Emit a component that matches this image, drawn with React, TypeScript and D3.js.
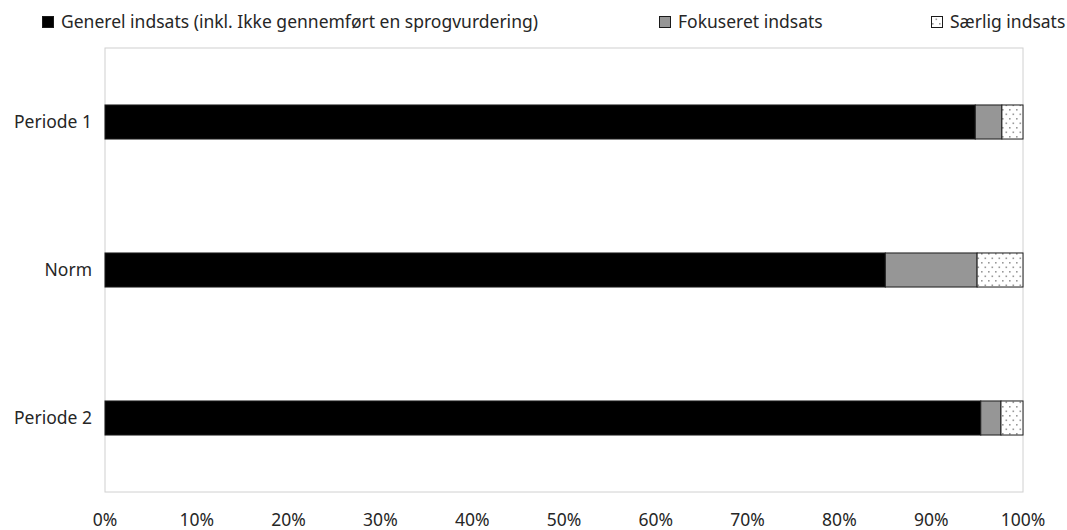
import React, { useEffect, useRef } from "react";
import * as d3 from "d3";

const categories = ["Periode 1", "Norm", "Periode 2"];
const seriesNames = [
  "Generel indsats (inkl. Ikke gennemført en sprogvurdering)",
  "Fokuseret indsats",
  "Særlig indsats",
];
const generel = [94.8, 85.0, 95.4];
const fokuseret = [2.9, 10.0, 2.2];
const saerlig = [2.3, 5.0, 2.4];
const xTicks = [0, 10, 20, 30, 40, 50, 60, 70, 80, 90, 100];

const W = 1067;
const H = 530;
const FONT = "'Noto Sans', sans-serif";
const FS = 17.5;

export default function App() {
  const ref = useRef<SVGSVGElement>(null);

  useEffect(() => {
    const svg = d3.select(ref.current);
    svg.selectAll("*").remove();

    const m = { left: 105, right: 1023, top: 48, bottom: 492 };
    const x = d3.scaleLinear().domain([0, 100]).range([m.left, m.right]);
    const y = d3
      .scaleBand<string>()
      .domain(categories)
      .range([m.top, m.bottom])
      .paddingInner(0.77)
      .paddingOuter(0.385);

    const defs = svg.append("defs");
    const pat = defs
      .append("pattern")
      .attr("id", "dots")
      .attr("patternUnits", "userSpaceOnUse")
      .attr("width", 7)
      .attr("height", 9);
    pat.append("rect").attr("width", 7).attr("height", 9).attr("fill", "#fff");
    pat.append("rect").attr("x", 1).attr("y", 1).attr("width", 1.6).attr("height", 1.6).attr("fill", "#999");
    pat.append("rect").attr("x", 4.5).attr("y", 5.5).attr("width", 1.6).attr("height", 1.6).attr("fill", "#999");

    // frame
    svg
      .append("rect")
      .attr("x", m.left)
      .attr("y", m.top)
      .attr("width", m.right - m.left)
      .attr("height", m.bottom - m.top)
      .attr("fill", "none")
      .attr("stroke", "#d0d0d0")
      .attr("stroke-width", 1);

    const fills = ["#000000", "#969696", "url(#dots)"];
    const series = [generel, fokuseret, saerlig];
    const stackData = categories.map((c, i) => ({
      cat: c,
      s0: series[0][i],
      s1: series[1][i],
      s2: series[2][i],
    }));
    const stack = d3.stack<any>().keys(["s0", "s1", "s2"]);
    const stacked = stack(stackData);

    stacked.forEach((layer, li) => {
      svg
        .append("g")
        .selectAll("rect")
        .data(layer)
        .join("rect")
        .attr("x", (d) => x(d[0]))
        .attr("y", (d) => y(d.data.cat)!)
        .attr("width", (d) => x(d[1]) - x(d[0]))
        .attr("height", y.bandwidth())
        .attr("fill", fills[li])
        .attr("stroke", "#1a1a1a")
        .attr("stroke-width", 1);
    });

    // y labels
    svg
      .append("g")
      .selectAll("text")
      .data(categories)
      .join("text")
      .attr("x", 92)
      .attr("y", (d) => y(d)! + y.bandwidth() / 2)
      .attr("dy", "0.35em")
      .attr("text-anchor", "end")
      .attr("font-family", FONT)
      .attr("font-size", FS)
      .attr("fill", "#262626")
      .text((d) => d);

    // x labels
    svg
      .append("g")
      .selectAll("text")
      .data(xTicks)
      .join("text")
      .attr("x", (d) => x(d))
      .attr("y", 526)
      .attr("text-anchor", "middle")
      .attr("font-family", FONT)
      .attr("font-size", FS)
      .attr("fill", "#262626")
      .text((d) => d + "%");

    // legend
    const legendX = [42, 659, 931];
    const legendFills = ["#000000", "#969696", "url(#dots)"];
    seriesNames.forEach((name, i) => {
      const g = svg.append("g").attr("transform", `translate(${legendX[i]},22)`);
      g.append("rect")
        .attr("x", 0.5)
        .attr("y", -5.5)
        .attr("width", 11)
        .attr("height", 11)
        .attr("fill", legendFills[i])
        .attr("stroke", "#1a1a1a")
        .attr("stroke-width", 1);
      g.append("text")
        .attr("x", 19)
        .attr("y", 0)
        .attr("dy", "0.35em")
        .attr("font-family", FONT)
        .attr("font-size", FS)
        .attr("fill", "#262626")
        .text(name);
    });
  }, []);

  return (
    <svg
      ref={ref}
      width={W}
      height={H}
      style={{ position: "absolute", left: 0, top: 0, background: "#fff" }}
    />
  );
}
